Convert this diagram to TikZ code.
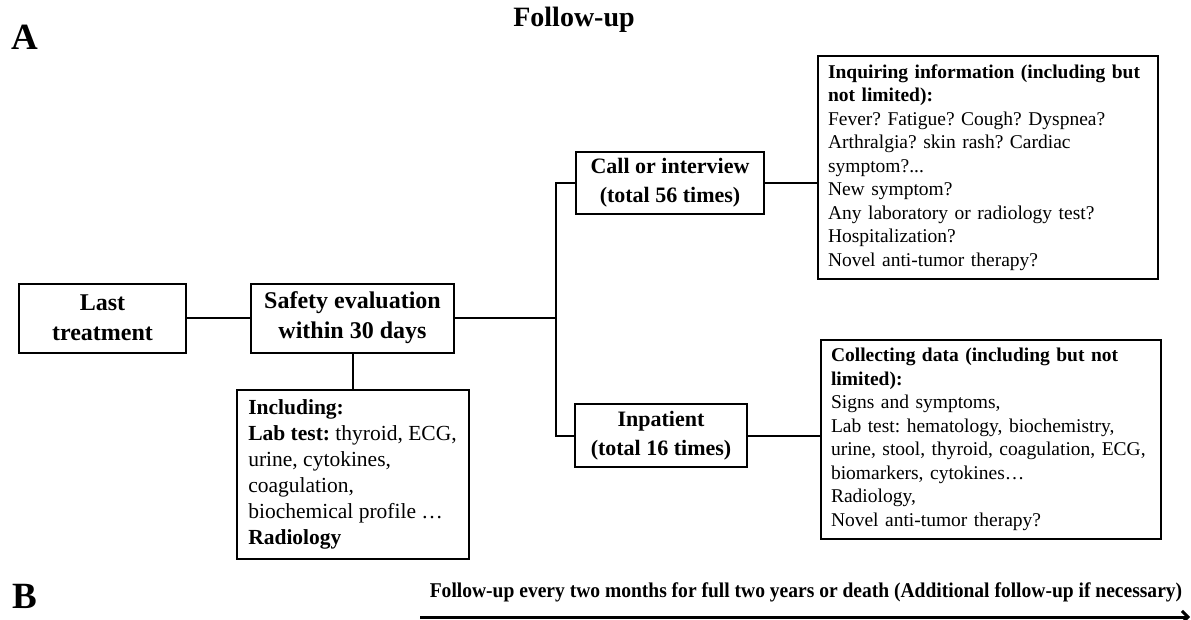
\documentclass[tikz,border=0pt]{standalone}
\usepackage{fontspec}
\setmainfont{Liberation Serif}
\newfontfamily\condserif[FakeStretch=0.93]{Liberation Serif}
\usetikzlibrary{arrows.meta, positioning}

\begin{document}
\frenchspacing
\begin{tikzpicture}[x=1pt, y=-1pt,
    stage/.style = {draw, line width=2pt, align=center, font=\bfseries\fontsize{24}{30}\selectfont, inner sep=4pt, minimum height=69pt},
    visit/.style = {draw, line width=2pt, align=center, font=\bfseries\fontsize{22}{29}\selectfont, inner sep=4pt},
    detail/.style = {draw, line width=2pt, align=left, font=\fontsize{19.5}{23.5}\selectfont, inner xsep=10pt, text width=320pt},
    link/.style = {line width=2pt},
    panel/.style = {font=\bfseries\fontsize{37}{37}\selectfont} ]
  \useasboundingbox (0,0) rectangle (1191,619);
  % panel letters and heading
  \node[panel] (labA) at (25,37) {A};
  \node[panel] (labB) at (25,596) {B};
  \node[font=\bfseries\fontsize{28}{28}\selectfont] (title) at (574,20) {Follow-up};

  % main chain
  \node[stage, minimum width=167pt] (last) at (102.5,318) {Last\\treatment};
  \node[stage, minimum width=203pt, right=63pt of last] (safety) {Safety evaluation\\within 30 days};
  \node[draw, line width=2pt, align=left, font=\fontsize{21.5}{26}\selectfont, minimum width=232pt, minimum height=169pt, below=35pt of safety] (incl)
    {\textbf{Including:}\\\textbf{Lab test:} thyroid, ECG,\\urine, cytokines,\\coagulation,\\biochemical profile \dots\\\textbf{Radiology}};

  % two follow-up routes
  \coordinate (fork) at (556,318);
  \node[visit, minimum width=188pt, minimum height=62pt] (call) at (670,183) {Call or interview\\(total 56 times)};
  \node[visit, minimum width=172pt, minimum height=63pt] (inpat) at (661,435.5) {Inpatient\\(total 16 times)};
  \node[detail, minimum height=223pt] (info) at (988,167.5)
    {\textbf{Inquiring information (including but}\\\textbf{not limited):}\\Fever? Fatigue? Cough? Dyspnea?\\Arthralgia? skin rash? Cardiac\\symptom?...\\New symptom?\\Any laboratory or radiology test?\\Hospitalization?\\Novel anti-tumor therapy?};
  \node[detail, minimum height=199pt] (data) at (991,439.5)
    {\textbf{Collecting data (including but not}\\\textbf{limited):}\\Signs and symptoms,\\Lab test: hematology, biochemistry,\\urine, stool, thyroid, coagulation, ECG,\\biomarkers, cytokines\dots\\Radiology,\\Novel anti-tumor therapy?};

  \draw[link] (last) -- (safety);
  \draw[link] (safety.south) -- (safety.south |- incl.north);
  \draw[link] (safety.east) -- (fork);
  \draw[link] (call.west) -| (fork) |- (inpat.west);
  \draw[link] (call.east) -- (call.east -| info.west);
  \draw[link] (inpat.east) -- (inpat.east -| data.west);

  % timeline
  \node[font=\condserif\bfseries\fontsize{21}{21}\selectfont] (note) at (806,592) {Follow-up every two months for full two years or death (Additional follow-up if necessary)};
  \coordinate (tl0) at (420,617);
  \coordinate (tl1) at (1190,617);
  \draw[line width=3pt, -{Straight Barb[length=6pt]}] (tl0) -- (tl1);
\end{tikzpicture}
\end{document}
